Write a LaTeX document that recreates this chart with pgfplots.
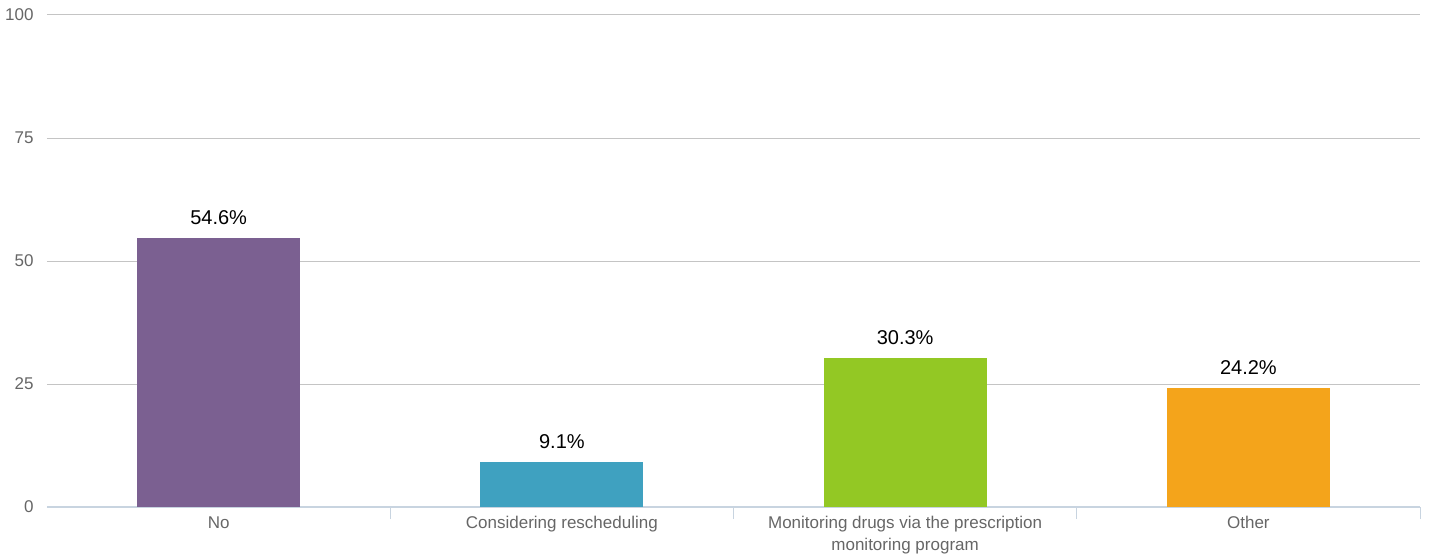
\documentclass[border=0pt]{standalone}
\usepackage{pgfplots}
\pgfplotsset{compat=1.18}
\usepackage{fontspec}
\setmainfont{Liberation Sans}
\definecolor{cPurple}{HTML}{7B6091}
\definecolor{cTeal}{HTML}{3FA1C0}
\definecolor{cGreen}{HTML}{93C824}
\definecolor{cOrange}{HTML}{F4A41B}
\definecolor{axisline}{HTML}{C8D4E0}
\definecolor{gridc}{HTML}{C4C4C4}
\definecolor{ticktext}{HTML}{666666}
\begin{document}
\begin{tikzpicture}
\begin{axis}[
  at={(0,0)}, anchor=south west,
  scale only axis,
  width=1373pt, height=492pt,
  xmin=0.5, xmax=4.5,
  ymin=0, ymax=100,
  ytick={0,25,50,75,100},
  ymajorgrids=true,
  grid style={gridc, line width=1pt},
  axis y line*=left,
  y axis line style={draw=none},
  axis x line*=bottom,
  x axis line style={axisline, line width=1.5pt},
  xtick={1,2,3,4},
  xticklabels={No, Considering rescheduling, {Monitoring drugs via the prescription\\monitoring program}, Other},
  x tick label style={font=\fontsize{17}{22}\selectfont, text=ticktext, align=center, yshift=-6pt},
  y tick label style={font=\fontsize{17}{18}\selectfont, text=ticktext, xshift=-10pt},
  /pgf/number format/assume math mode=true,
  major tick length=0pt,
  extra x ticks={1.5,2.5,3.5,4.5},
  extra x tick labels={},
  extra x tick style={major tick length=12pt, tick style={axisline, line width=1pt}, xmajorgrids=false},
  ybar, bar width=163pt, bar shift=0pt,
  nodes near coords={\pgfmathprintnumber[fixed,precision=1,fixed zerofill]{\pgfplotspointmeta}\%},
  every node near coord/.append style={font=\fontsize{20}{22}\selectfont, text=black, yshift=10pt},
  clip=false,
]
\addplot[fill=cPurple, draw=none] coordinates {(1,54.6)};
\addplot[fill=cTeal, draw=none] coordinates {(2,9.1)};
\addplot[fill=cGreen, draw=none] coordinates {(3,30.3)};
\addplot[fill=cOrange, draw=none] coordinates {(4,24.2)};
\end{axis}
\pgfresetboundingbox
\path[use as bounding box] (-47pt,-51pt) rectangle (1383pt,507pt);
\end{tikzpicture}
\end{document}
